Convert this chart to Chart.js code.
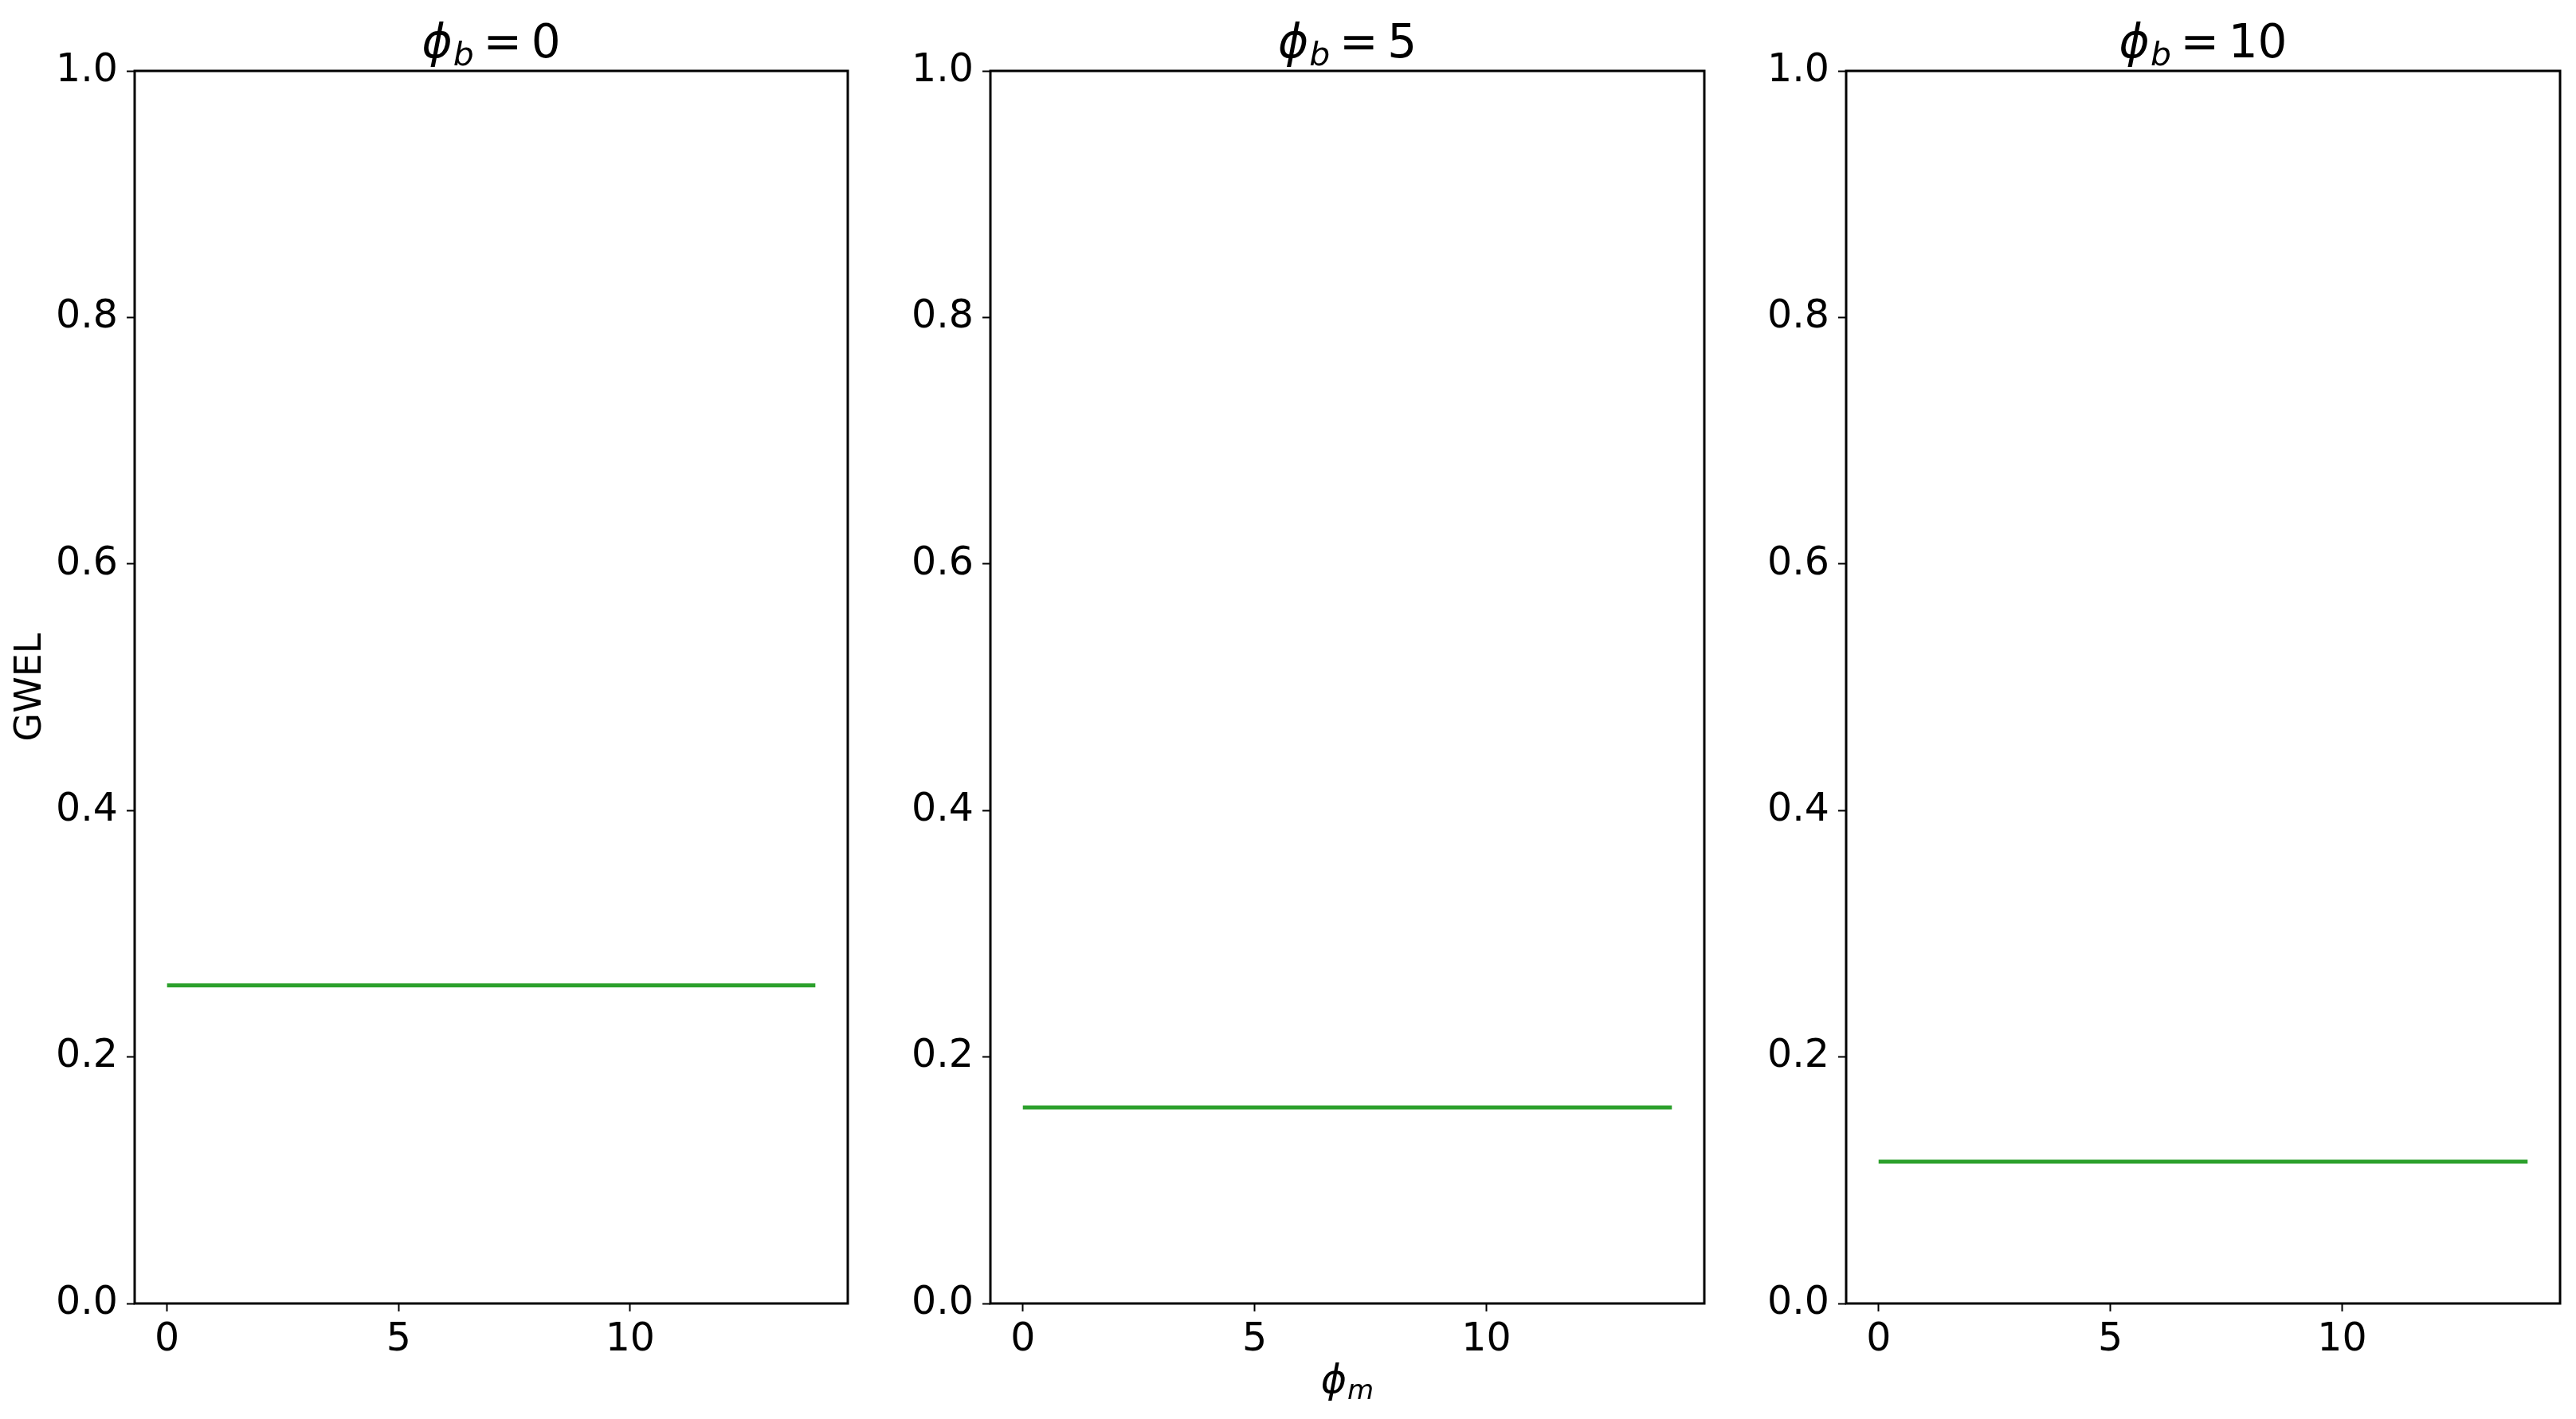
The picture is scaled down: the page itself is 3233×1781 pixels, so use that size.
<!DOCTYPE html>
<html><head><meta charset="utf-8">
<script src="https://cdn.jsdelivr.net/npm/chart.js@4.4.0/dist/chart.umd.min.js"></script>
<style>
html,body{margin:0;padding:0;background:#fff;width:3233px;height:1781px;overflow:hidden}
.p{position:absolute;top:0}
canvas{display:block}
</style></head><body>
<div class="p" id="c0" style="left:0px"><canvas id="k0" width="1084" height="1781"></canvas></div>
<div class="p" id="c1" style="left:1074px"><canvas id="k1" width="1085" height="1781"></canvas></div>
<div class="p" id="c2" style="left:2148px"><canvas id="k2" width="1085" height="1781"></canvas></div>
<script>
// ---- data ----
const phiM = [0, 1, 2, 3, 4, 5, 6, 7, 8, 9, 10, 11, 12, 13, 14];
const phiBValues = ['0', '5', '10'];
const gwelPhiB0  = [0.258, 0.258, 0.258, 0.258, 0.258, 0.258, 0.258, 0.258, 0.258, 0.258, 0.258, 0.258, 0.258, 0.258, 0.258];
const gwelPhiB5  = [0.159, 0.159, 0.159, 0.159, 0.159, 0.159, 0.159, 0.159, 0.159, 0.159, 0.159, 0.159, 0.159, 0.159, 0.159];
const gwelPhiB10 = [0.115, 0.115, 0.115, 0.115, 0.115, 0.115, 0.115, 0.115, 0.115, 0.115, 0.115, 0.115, 0.115, 0.115, 0.115];
const xTicks = [0, 5, 10];
const yTicks = [0, 0.2, 0.4, 0.6, 0.8, 1.0];
const yTickLabels = ['0.0', '0.2', '0.4', '0.6', '0.8', '1.0'];
const yLabel = 'GWEL';
const xLabelBase = 'ϕ', xLabelSub = 'm';
const titleBase = 'ϕ', titleSub = 'b';

const series = [gwelPhiB0, gwelPhiB5, gwelPhiB10];
const FONT = '"DejaVu Sans", sans-serif';

function drawMath(ctx, cx, baseline, fs, base, sub, value) {
  ctx.save();
  ctx.fillStyle = '#000';
  ctx.textBaseline = 'alphabetic';
  ctx.textAlign = 'left';
  const fBase = `italic ${fs}px ${FONT}`;
  const fSub = `italic ${Math.round(fs * 0.7)}px ${FONT}`;
  const fRest = `${fs}px ${FONT}`;
  ctx.font = fBase; const wB = ctx.measureText(base).width;
  ctx.font = fSub; const wS = ctx.measureText(sub).width;
  ctx.font = fRest;
  const wEq = value !== '' ? ctx.measureText('=').width : 0;
  const wV = value !== '' ? ctx.measureText(value).width : 0;
  const gap = fs * 0.02;
  const sp = value !== '' ? fs * 0.2 : 0;
  const total = wB + gap + wS + (value !== '' ? sp + wEq + sp + wV : 0);
  let x = cx - total / 2;
  ctx.font = fBase; ctx.fillText(base, x, baseline); x += wB + gap;
  ctx.font = fSub; ctx.fillText(sub, x, baseline + fs * 0.17); x += wS;
  if (value !== '') {
    ctx.font = fRest;
    x += sp; ctx.fillText('=', x, baseline); x += wEq + sp;
    ctx.fillText(value, x, baseline);
  }
  ctx.restore();
}

const mathPlugin = {
  id: 'mathText',
  afterDraw(chart, args, opts) {
    const ctx = chart.ctx, a = chart.chartArea;
    ctx.save();
    ctx.strokeStyle = '#000';
    ctx.lineWidth = 3;
    ctx.strokeRect(a.left, a.top, a.right - a.left, a.bottom - a.top);
    ctx.restore();
    const cx = (a.left + a.right) / 2;
    drawMath(ctx, cx, 72, 58, titleBase, titleSub, opts.phiB);
    if (opts.showXLabel) {
      drawMath(ctx, cx, 1748, 49, xLabelBase, xLabelSub, '');
    }
  }
};

for (let i = 0; i < 3; i++) {
  const ctx = document.getElementById('k' + i).getContext('2d');
  new Chart(ctx, {
    type: 'line',
    data: {
      labels: phiM,
      datasets: [{
        data: phiM.map((x, j) => ({ x: x, y: series[i][j] })),
        borderColor: '#2ca02c',
        borderWidth: 5,
        pointRadius: 0,
        fill: false,
        tension: 0
      }]
    },
    options: {
      responsive: false,
      animation: false,
      devicePixelRatio: 1,
      layout: { padding: { left: 0, right: 20, top: 89, bottom: 45 } },
      plugins: {
        legend: { display: false },
        title: { display: false },
        tooltip: { enabled: false },
        mathText: { phiB: phiBValues[i], showXLabel: i === 1 }
      },
      scales: {
        x: {
          type: 'linear',
          min: -0.7, max: 14.7,
          afterFit: s => { s.height = 100; },
          afterBuildTicks: s => { s.ticks = xTicks.map(v => ({ value: v })); },
          border: { display: false },
          grid: { drawOnChartArea: false, drawTicks: true, tickLength: 10, tickWidth: 2, tickColor: '#000' },
          ticks: { color: '#000', padding: 7, maxRotation: 0, autoSkip: false,
                   font: { family: FONT, size: 49 }, callback: v => String(v) }
        },
        y: {
          type: 'linear',
          min: 0, max: 1,
          afterFit: s => { s.width = 169; },
          afterBuildTicks: s => { s.ticks = yTicks.map(v => ({ value: v })); },
          border: { display: false },
          grid: { drawOnChartArea: false, drawTicks: true, tickLength: 10, tickWidth: 2, tickColor: '#000' },
          ticks: { color: '#000', padding: 11, autoSkip: false,
                   font: { family: FONT, size: 49 },
                   callback: v => yTickLabels[yTicks.findIndex(t => Math.abs(t - v) < 1e-9)] },
          title: { display: i === 0, text: yLabel, color: '#000',
                   font: { family: FONT, size: 46 }, padding: { top: 11, bottom: 0 } }
        }
      }
    },
    plugins: [mathPlugin]
  });
}
</script>
</body></html>
